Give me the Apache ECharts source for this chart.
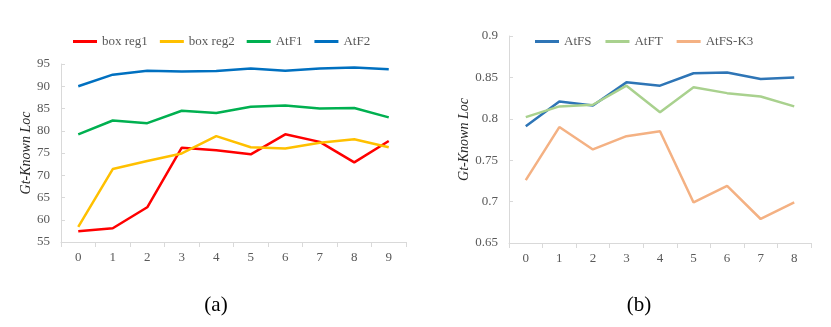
<!DOCTYPE html>
<html lang="en">
<head>
    <meta charset="UTF-8">
    <title>Gt-Known Loc</title>
    <script src="https://cdn.jsdelivr.net/npm/echarts@6/dist/echarts.min.js"></script>
    <style>
        body { margin: 0; background: #fff; }
        #chart { width: 831px; height: 327px; }
    </style>
</head>
<body>
    <div id="chart"></div>
    <script>
        // (a) 左图数据
        var stepsA = ['0', '1', '2', '3', '4', '5', '6', '7', '8', '9'];
        var boxReg1 = [57.4, 58.1, 62.8, 76.2, 75.6, 74.7, 79.2, 77.5, 72.9, 77.7];
        var boxReg2 = [58.4, 71.4, 73.2, 74.9, 78.8, 76.3, 76.0, 77.3, 78.1, 76.3];
        var atF1 = [79.2, 82.3, 81.7, 84.5, 84.0, 85.4, 85.7, 85.0, 85.1, 83.0];
        var atF2 = [90.0, 92.6, 93.5, 93.3, 93.4, 94.0, 93.5, 94.0, 94.2, 93.8];

        // (b) 右图数据
        var stepsB = ['0', '1', '2', '3', '4', '5', '6', '7', '8'];
        var atFS = [0.791, 0.821, 0.816, 0.844, 0.840, 0.855, 0.856, 0.848, 0.850];
        var atFT = [0.802, 0.815, 0.817, 0.840, 0.808, 0.838, 0.831, 0.827, 0.815];
        var atFSK3 = [0.726, 0.790, 0.763, 0.779, 0.785, 0.699, 0.719, 0.679, 0.699];

        var font = 'Liberation Serif';
        var gray = '#595959';
        var axisColor = '#D9D9D9';

        function xAxisOf(idx, data) {
            return {
                type: 'category', gridIndex: idx, data: data, boundaryGap: true,
                axisLine: { lineStyle: { color: axisColor } },
                axisTick: { show: true, length: 5, lineStyle: { color: axisColor } },
                axisLabel: { color: gray, fontFamily: font, fontSize: 13, margin: 9 }
            };
        }
        function yAxisOf(idx, min, max, interval, gap) {
            return {
                type: 'value', gridIndex: idx, min: min, max: max, interval: interval,
                name: 'Gt-Known Loc', nameLocation: 'middle', nameGap: gap,
                nameTextStyle: { fontFamily: font, fontStyle: 'italic', fontSize: 14, color: '#262626' },
                axisLine: { show: true, lineStyle: { color: axisColor } },
                axisTick: { show: true, inside: true, length: 4, lineStyle: { color: axisColor } },
                splitLine: { show: false },
                axisLabel: { color: gray, fontFamily: font, fontSize: 13, margin: 11 }
            };
        }
        function lineOf(name, data, color, idx) {
            return {
                name: name, type: 'line', data: data, xAxisIndex: idx, yAxisIndex: idx,
                showSymbol: false, symbol: 'none',
                lineStyle: { color: color, width: 2.5 }, itemStyle: { color: color }
            };
        }

        var chart = echarts.init(document.getElementById('chart'));
        var option = {
            animation: false,
            title: [
                { text: '(a)', left: 211, top: 290, textAlign: 'center',
                  textStyle: { fontFamily: font, fontSize: 21, fontWeight: 'normal', color: '#000' } },
                { text: '(b)', left: 634, top: 290, textAlign: 'center',
                  textStyle: { fontFamily: font, fontSize: 21, fontWeight: 'normal', color: '#000' } }
            ],
            legend: [
                { data: ['box reg1', 'box reg2', 'AtF1', 'AtF2'], left: 68, top: 30,
                  icon: 'rect', itemWidth: 24, itemHeight: 3, itemGap: 12,
                  textStyle: { fontFamily: font, fontSize: 13, color: gray } },
                { data: ['AtFS', 'AtFT', 'AtFS-K3'], left: 530, top: 30,
                  icon: 'rect', itemWidth: 24, itemHeight: 3, itemGap: 14,
                  textStyle: { fontFamily: font, fontSize: 13, color: gray } }
            ],
            grid: [
                { left: 61, right: 425, top: 64, bottom: 85 },
                { left: 509, right: 20, top: 36, bottom: 84 }
            ],
            xAxis: [xAxisOf(0, stepsA), xAxisOf(1, stepsB)],
            yAxis: [yAxisOf(0, 55, 95, 5, 26), yAxisOf(1, 0.65, 0.9, 0.05, 35)],
            series: [
                lineOf('box reg1', boxReg1, '#FF0000', 0),
                lineOf('box reg2', boxReg2, '#FFC000', 0),
                lineOf('AtF1', atF1, '#00B050', 0),
                lineOf('AtF2', atF2, '#0070C0', 0),
                lineOf('AtFS', atFS, '#2E75B6', 1),
                lineOf('AtFT', atFT, '#A9D18E', 1),
                lineOf('AtFS-K3', atFSK3, '#F4B183', 1)
            ]
        };
        chart.setOption(option);
    </script>
</body>
</html>
